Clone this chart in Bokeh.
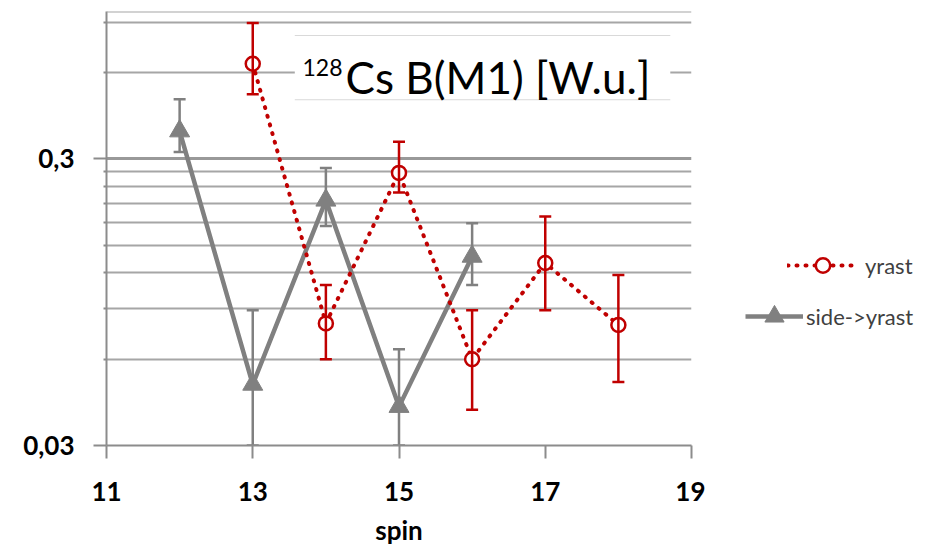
from bokeh.plotting import figure
from bokeh.layouts import row
from bokeh.models import (ColumnDataSource, Whisker, TeeHead, FixedTicker, CustomJSTickFormatter,
                          Legend, LegendItem, Label, BoxAnnotation, Range1d, Span)
from bokeh.embed import file_html
from bokeh.resources import INLINE

# ---------------- data ----------------
yrast_spin = [13, 14, 15, 16, 17, 18]
yrast_bm1 = [0.644, 0.080, 0.268, 0.060, 0.130, 0.079]
yrast_upper = [0.894, 0.109, 0.344, 0.089, 0.189, 0.118]
yrast_lower = [0.504, 0.060, 0.229, 0.040, 0.089, 0.050]

side_spin = [12, 13, 14, 15, 16]
side_bm1 = [0.375, 0.049, 0.215, 0.041, 0.137]
side_upper = [0.484, 0.089, 0.279, 0.065, 0.179]
side_lower = [0.317, 0.030, 0.175, 0.030, 0.109]

x_ticks = [11, 13, 15, 17, 19]
y_major = [0.03, 0.3]
y_minor = [0.06, 0.09, 0.12, 0.15, 0.18, 0.21, 0.24, 0.27, 0.6, 0.9]

RED = "#c00000"
GRAY = "#808080"
GRID = "#a6a6a6"
FONT = "Lato"
Y_END = 0.98
H = 548
FRAME_BOTTOM = 448

p = figure(width=705, height=H, y_axis_type="log",
           x_range=Range1d(11, 19), y_range=Range1d(0.03, Y_END),
           output_backend="svg", toolbar_location=None,
           min_border_left=106, min_border_right=14, min_border_top=11, min_border_bottom=100)
p.outline_line_color = None

# grid
p.xgrid.visible = False
p.ygrid.ticker = FixedTicker(ticks=y_major, minor_ticks=y_minor)
p.ygrid.grid_line_color = "#999999"
p.ygrid.grid_line_width = 3
p.ygrid.minor_grid_line_color = GRID
p.ygrid.minor_grid_line_width = 2
p.add_layout(Span(location=Y_END, dimension="width", line_color=GRID, line_width=2))

# axes
p.xaxis.ticker = FixedTicker(ticks=x_ticks, minor_ticks=[])
p.yaxis.ticker = FixedTicker(ticks=y_major, minor_ticks=y_minor)
p.yaxis.formatter = CustomJSTickFormatter(code="return tick.toString().replace('.', ',');")
for ax in (p.xaxis[0], p.yaxis[0]):
    ax.axis_line_color = "#8c8c8c"
    ax.axis_line_width = 2
    ax.major_tick_line_color = "#8c8c8c"
    ax.major_tick_line_width = 2
    ax.major_tick_in = 0
    ax.major_tick_out = 13
    ax.major_label_text_font = FONT
    ax.major_label_text_font_style = "bold"
    ax.major_label_text_font_size = "26px"
    ax.major_label_text_color = "black"
p.xaxis.minor_tick_line_color = None
p.yaxis.minor_tick_line_color = "#8c8c8c"
p.yaxis.minor_tick_line_width = 2
p.yaxis.minor_tick_in = 0
p.yaxis.minor_tick_out = 3
p.yaxis.major_label_standoff = 19
p.xaxis.major_label_standoff = 23
p.xaxis.axis_label = "spin"
p.xaxis.axis_label_text_font = FONT
p.xaxis.axis_label_text_font_style = "bold"
p.xaxis.axis_label_text_font_size = "26px"
p.xaxis.axis_label_text_color = "black"
p.xaxis.axis_label_standoff = 10

# title box
BOX_L, BOX_R, BOX_T, BOX_B = 13.575, 18.71, 0.812, 0.48
p.add_layout(BoxAnnotation(left=BOX_L, right=BOX_R, top=BOX_T, bottom=BOX_B,
                           fill_color="white", fill_alpha=1, line_color=None))
p.add_layout(BoxAnnotation(left=BOX_L, right=BOX_R, top=BOX_T, bottom=BOX_T / 1.008,
                           fill_color="#d9d9d9", fill_alpha=1, line_color=None))
p.add_layout(BoxAnnotation(left=BOX_L, right=BOX_R, top=BOX_B * 1.008, bottom=BOX_B,
                           fill_color="#d9d9d9", fill_alpha=1, line_color=None))
p.add_layout(Label(x=13.68, y=0.624, text="128", text_font=FONT, text_font_size="23px",
                   text_color="black", text_baseline="alphabetic"))
p.add_layout(Label(x=14.27, y=0.577, text="Cs B(M1) [W.u.]", text_font=FONT,
                   text_font_size="44px", text_color="black", text_baseline="alphabetic"))

# sources
ysrc = ColumnDataSource(dict(x=yrast_spin, y=yrast_bm1, hi=yrast_upper, lo=yrast_lower))
ssrc = ColumnDataSource(dict(x=side_spin, y=side_bm1, hi=side_upper, lo=side_lower))

# error bars
for src, col in ((ssrc, GRAY), (ysrc, RED)):
    w = Whisker(source=src, base="x", upper="hi", lower="lo", line_color=col, line_width=2.5,
                upper_head=TeeHead(size=12, line_color=col, line_width=2.5),
                lower_head=TeeHead(size=12, line_color=col, line_width=2.5))
    w.level = "glyph"
    p.add_layout(w)

SIDE_LINE = dict(line_color=GRAY, line_width=4.5)
SIDE_MARK = dict(marker="triangle", size=20, fill_color=GRAY, line_color=GRAY)
YR_LINE = dict(line_color=RED, line_width=4, line_dash="1 8", line_cap="round")
YR_MARK = dict(marker="circle", size=14, fill_color="white", line_color=RED, line_width=2.5)

p.line("x", "y", source=ssrc, **SIDE_LINE)
p.scatter("x", "y", source=ssrc, **SIDE_MARK)
p.line("x", "y", source=ysrc, **YR_LINE)
p.scatter("x", "y", source=ysrc, **YR_MARK)

# ---------------- legend panel ----------------
q = figure(width=235, height=H, x_range=Range1d(0, 1), y_range=Range1d(0, 1),
           output_backend="svg", toolbar_location=None,
           min_border_left=0, min_border_right=0, min_border_top=0, min_border_bottom=0)
q.axis.visible = False
q.grid.visible = False
q.outline_line_color = None

nan = [float("nan")]
ql1 = q.line(nan, nan, **YR_LINE)
qm1 = q.scatter(nan, nan, **YR_MARK)
ql2 = q.line(nan, nan, **SIDE_LINE)
qm2 = q.scatter(nan, nan, **SIDE_MARK)

def mk_legend(label, renderers, loc, gw, gh, standoff):
    return Legend(items=[LegendItem(label=label, renderers=renderers)], location=loc,
                  glyph_width=gw, glyph_height=gh, label_height=gh, label_standoff=standoff,
                  padding=0, margin=0, border_line_color=None, background_fill_alpha=0,
                  label_text_font=FONT, label_text_font_size="22px",
                  label_text_color="#404040")

q.add_layout(mk_legend("yrast", [ql1, qm1], (82, FRAME_BOTTOM - 268 - 18), 71, 36, 7))
q.add_layout(mk_legend("side->yrast", [ql2, qm2], (40, FRAME_BOTTOM - 319 - 24), 58, 48, 3))

layout = row(p, q, spacing=0)
open("out.html", "w").write(file_html(layout, INLINE))
